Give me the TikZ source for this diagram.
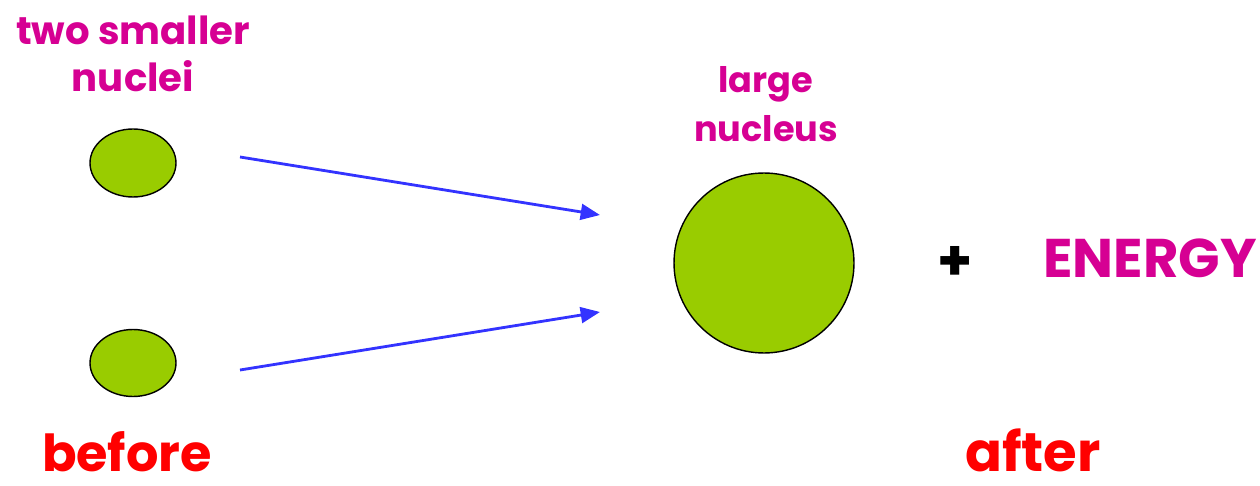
\documentclass[tikz,border=0pt]{standalone}
\usepackage{fontspec}
\setmainfont{Poppins}
\usetikzlibrary{arrows.meta,positioning,shapes.geometric}
\definecolor{nucgreen}{RGB}{153,204,0}
\definecolor{labelpink}{RGB}{214,0,147}
\definecolor{arrowblue}{RGB}{51,51,255}
\tikzset{
    nucleus/.style={draw=black,thick,fill=nucgreen,inner sep=0pt},
    pinklabel/.style={text=labelpink,font=\bfseries\fontsize{20}{28}\selectfont,align=center},
    redlabel/.style={text=red,font=\bfseries\fontsize{29}{30}\selectfont,inner sep=0pt,anchor=base},
    fusearrow/.style={draw=arrowblue,line width=1.6pt,-{Triangle[length=11pt,width=9pt]}}
}
\begin{document}
\begin{tikzpicture}[x=0.02cm,y=-0.02cm]
    \useasboundingbox (0,0) rectangle (1260,486);

    % small and large nuclei
    \node[nucleus,circle,minimum size=3.6cm] (big) at (764,263) {};
    \node[nucleus,ellipse,minimum width=1.72cm,minimum height=1.36cm] (nucA) at (133,163) {};
    \node[nucleus,ellipse,minimum width=1.72cm,minimum height=1.34cm] (nucB) at (133,363) {};

    % arrows towards the large nucleus
    \coordinate (tailA) at (240,157);
    \coordinate (headA) at (600,215);
    \coordinate (tailB) at (240,370);
    \coordinate (headB) at (600,312);
    \draw[fusearrow] (tailA) -- (headA);
    \draw[fusearrow] (tailB) -- (headB);

    % labels
    \node[pinklabel,font=\bfseries\fontsize{22}{27}\selectfont] (small) at (133,54) {two smaller\\nuclei};
    \node[pinklabel] (large) at (766,104) {large\\nucleus};
    \node[font=\bfseries\fontsize{32}{34}\selectfont] (plus) at (955,263) {+};
    \node[text=labelpink,font=\bfseries\fontsize{31}{36}\selectfont] (energy) at (1150,258) {ENERGY};
    \node[redlabel] (before) at (127,471) {before};
    \node[redlabel,font=\bfseries\fontsize{31}{32}\selectfont] (after) at (1033,471) {after};
\end{tikzpicture}
\end{document}
